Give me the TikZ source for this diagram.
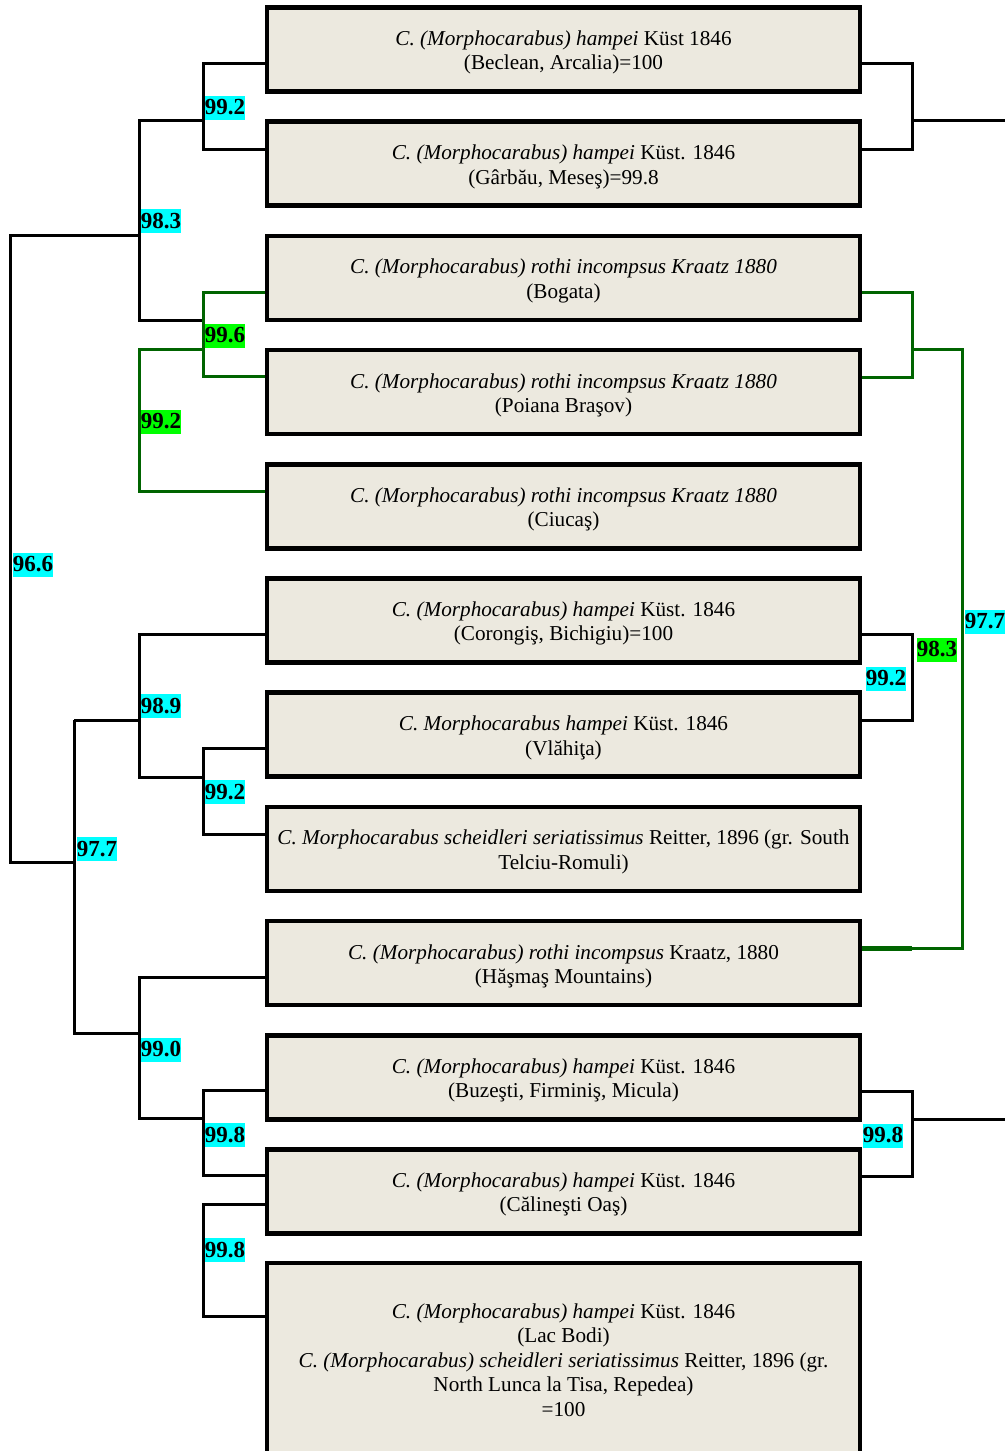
\documentclass[tikz,border=0pt]{standalone}
\usepackage{fontspec}
\setmainfont{Liberation Serif}

\definecolor{boxfill}{RGB}{236,233,223}
\definecolor{treegreen}{RGB}{0,100,0}
\definecolor{labcyan}{RGB}{0,255,255}
\definecolor{labgreen}{RGB}{0,255,0}

\tikzset{
  taxon/.style={draw=black,line width=2.25pt,fill=boxfill,minimum width=296.5pt,
    minimum height=42pt,align=center,inner sep=0pt,font=\fontsize{10.6}{12.2}\selectfont},
  twoline/.style={taxon,text height=22.6pt},
  branch/.style={line width=1.5pt,black},
  gbranch/.style={line width=1.5pt,treegreen},
  support/.style={fill=labcyan,inner sep=0pt,minimum width=19pt,minimum height=12pt,
    font=\fontsize{11.5}{13}\selectfont\bfseries},
  gsupport/.style={support,fill=labgreen},
}

\begin{document}
\begin{tikzpicture}[x=0.5pt,y=-0.5pt]
\useasboundingbox (0,0) rectangle (1005,1451);

% Taxon boxes
\node[twoline] (b1) at (563.5,49.5) {\textit{C. (Morphocarabus) hampei} Küst 1846\\(Beclean, Arcalia)=100};
\node[twoline] (b2) at (563.5,163.7) {\textit{C. (Morphocarabus) hampei} Küst. 1846\\(Gârbău, Meseş)=99.8};
\node[twoline] (b3) at (563.5,277.9) {\textit{C. (Morphocarabus) rothi incompsus Kraatz 1880}\\(Bogata)};
\node[twoline] (b4) at (563.5,392.1) {\textit{C. (Morphocarabus) rothi incompsus Kraatz 1880}\\(Poiana Braşov)};
\node[twoline] (b5) at (563.5,506.3) {\textit{C. (Morphocarabus) rothi incompsus Kraatz 1880}\\(Ciucaş)};
\node[twoline] (b6) at (563.5,620.5) {\textit{C. (Morphocarabus) hampei} Küst. 1846\\(Corongiş, Bichigiu)=100};
\node[twoline] (b7) at (563.5,734.7) {\textit{C. Morphocarabus hampei} Küst. 1846\\(Vlăhiţa)};
\node[twoline] (b8) at (563.5,848.9) {\textit{C. Morphocarabus scheidleri seriatissimus} Reitter, 1896 (gr. South\\Telciu-Romuli)};
\node[twoline] (b9) at (563.5,963.1) {\textit{C. (Morphocarabus) rothi incompsus} Kraatz, 1880\\(Hăşmaş Mountains)};
\node[twoline] (b10) at (563.5,1077.3) {\textit{C. (Morphocarabus) hampei} Küst. 1846\\(Buzeşti, Firminiş, Micula)};
\node[twoline] (b11) at (563.5,1191.5) {\textit{C. (Morphocarabus) hampei} Küst. 1846\\(Călineşti Oaş)};
\node[taxon,minimum height=97pt] (b12) at (563.5,1360) {\textit{C. (Morphocarabus) hampei} Küst. 1846\\(Lac Bodi)\\
  \textit{C. (Morphocarabus) scheidleri seriatissimus} Reitter, 1896 (gr.\\North Lunca la Tisa, Repedea)\\=100};

% Junctions
\coordinate (ja) at (203,120);
\coordinate (jb) at (139,235);
\coordinate (jc) at (203,349);
\coordinate (jd) at (74,720);
\coordinate (je) at (139,720);
\coordinate (jf) at (912,120);
\coordinate (jg) at (912,349);
\coordinate (jh) at (912,1119);
\coordinate (outa) at (1005,120);
\coordinate (outb) at (1005,1119);

% Left tree
\draw[branch] (b1.west |- 0,63) -| (ja) |- (b2.west |- 0,149);
\draw[branch] (ja) -| (139,320) -- (203,320);
\draw[branch] (jb) -| (10,862) -- (74,862);
\draw[gbranch] (b3.west |- 0,292) -| (203,376) -- (b4.west |- 0,376);
\draw[gbranch] (jc) -| (139,491) -- (b5.west |- 0,491);
\draw[branch] (b6.west |- 0,634) -| (139,777) -- (203,777);
\draw[branch] (b7.west |- 0,748) -| (203,834) -- (b8.west |- 0,834);
\draw[branch] (jd) -- (je);
\draw[branch] (jd) -- (74,1033) -- (139,1033);
\draw[branch] (b9.west |- 0,977) -| (139,1118) -- (203,1118);
\draw[branch] (b10.west |- 0,1090) -| (203,1175) -- (b11.west |- 0,1175);
\draw[branch] (b11.west |- 0,1204) -| (203,1316) -- (b12.west |- 0,1316);

% Right tree
\draw[branch] (b1.east |- 0,63) -| (jf) |- (b2.east |- 0,149);
\draw[branch] (jf) -- (outa);
\draw[gbranch] (b3.east |- 0,292) -| (jg) |- (b4.east |- 0,377);
\draw[gbranch] (jg) -| (962,948) -- (912,948);
\draw[gbranch,line width=2.5pt] (912,948) -- (b9.east |- 0,948);
\draw[branch] (b6.east |- 0,634) -| (912,720) -- (b7.east |- 0,720);
\draw[branch] (b10.east |- 0,1091) -| (jh) |- (b11.east |- 0,1176);
\draw[branch] (jh) -- (outb);

% Support values
\node[support] (s1) at (225,107.5) {99.2};
\node[support] (s2) at (161,221) {98.3};
\node[gsupport] (s3) at (225,335.5) {99.6};
\node[gsupport] (s4) at (161,421.5) {99.2};
\node[support] (s5) at (33,564.5) {96.6};
\node[support] (s6) at (161,706) {98.9};
\node[support] (s7) at (225,792) {99.2};
\node[support] (s8) at (97,849) {97.7};
\node[support] (s9) at (161,1049.5) {99.0};
\node[support] (s10) at (225,1135) {99.8};
\node[support] (s11) at (225,1249.5) {99.8};
\node[support] (s12) at (886,678.5) {99.2};
\node[gsupport] (s13) at (937,649.5) {98.3};
\node[support] (s14) at (985,621.5) {97.7};
\node[support] (s15) at (883,1135.5) {99.8};

\end{tikzpicture}
\end{document}
